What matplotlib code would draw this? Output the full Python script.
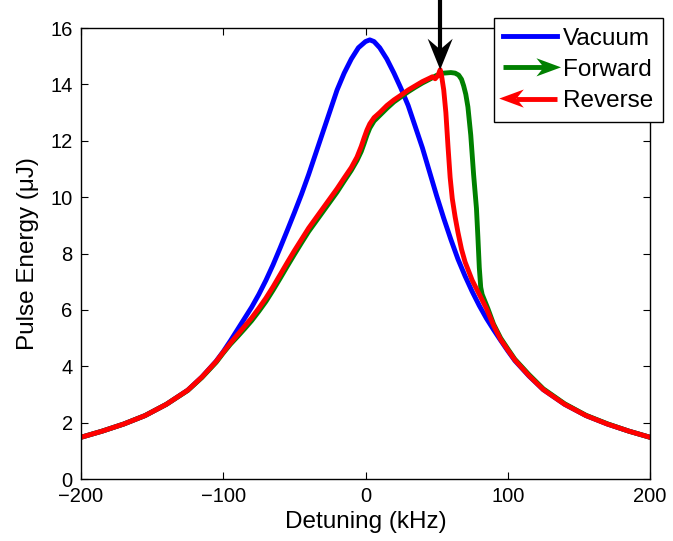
import matplotlib
matplotlib.use("Agg")
import matplotlib.pyplot as plt
import numpy as np
from matplotlib.lines import Line2D
from matplotlib.patches import Polygon
from matplotlib.legend_handler import HandlerBase

plt.rcParams['font.family'] = ['Liberation Sans', 'DejaVu Sans']

# vacuum (no cavity) response
vac_x = [-200, -185, -170, -155, -140, -125, -115, -105, -100, -95, -90, -85, -80, -75, -70,
         -65, -60, -55, -50, -45, -40, -35, -30, -25, -20, -15, -10, -5, 0, 3, 6, 10,
         15, 20, 25, 30, 35, 40, 45, 50, 55, 60, 65, 70, 75, 80, 85, 90, 95, 100,
         105, 115, 125, 140, 155, 170, 185, 200]
vac_y = [1.48, 1.70, 1.95, 2.25, 2.65, 3.15, 3.62, 4.18, 4.52, 4.9, 5.3, 5.7, 6.1, 6.55, 7.05,
         7.6, 8.2, 8.82, 9.45, 10.1, 10.8, 11.55, 12.3, 13.05, 13.8, 14.4, 14.9, 15.3, 15.52, 15.58, 15.52, 15.3,
         14.9, 14.4, 13.85, 13.25, 12.5, 11.75, 10.9, 10.05, 9.25, 8.5, 7.8, 7.2, 6.65, 6.15, 5.7, 5.3, 4.92, 4.55,
         4.2, 3.65, 3.17, 2.65, 2.25, 1.95, 1.70, 1.48]

# forward sweep
fwd_x = [-200, -185, -170, -155, -140, -125, -115, -105, -100, -95, -90, -85, -80, -75, -70,
         -65, -60, -55, -50, -45, -40, -35, -30, -25, -20, -15, -10, -6, -3, -1, 1, 3, 6, 10,
         15, 20, 25, 30, 35, 40, 45, 50, 55, 60, 63, 65.5, 67.5, 69, 70.5, 72, 73, 74,
         75, 76, 77, 78, 79, 80, 81, 82, 84, 86, 90, 95, 100,
         105, 115, 125, 140, 155, 170, 185, 200]
fwd_y = [1.48, 1.70, 1.95, 2.25, 2.65, 3.14, 3.6, 4.14, 4.47, 4.78, 5.05, 5.33, 5.62, 5.95, 6.3,
         6.7, 7.12, 7.55, 7.97, 8.38, 8.78, 9.13, 9.48, 9.83, 10.18, 10.57, 10.95, 11.3, 11.62, 11.9, 12.2, 12.45, 12.7, 12.9,
         13.15, 13.38, 13.56, 13.74, 13.9, 14.05, 14.18, 14.32, 14.4, 14.42, 14.4, 14.33, 14.18, 13.95, 13.65, 13.2, 12.7, 12.2,
         11.5, 10.8, 10.2, 9.6, 8.6, 7.5, 6.8, 6.55, 6.3, 6.05, 5.5, 5.0, 4.62,
         4.25, 3.7, 3.2, 2.67, 2.26, 1.96, 1.70, 1.48]

# reverse sweep
rev_x = [-200, -185, -170, -155, -140, -125, -115, -105, -100, -95, -90, -85, -80, -75, -70,
         -65, -60, -55, -50, -45, -40, -35, -30, -25, -20, -15, -10, -6, -3, -1, 1, 3, 6, 10,
         15, 20, 25, 30, 35, 40, 45, 47, 49, 51, 52.5, 53.5, 55, 56.5, 58, 59.5, 61, 63, 65,
         67.5, 70, 75, 80, 85, 90, 95, 100,
         105, 115, 125, 140, 155, 170, 185, 200]
rev_y = [1.48, 1.70, 1.95, 2.25, 2.65, 3.15, 3.62, 4.17, 4.5, 4.82, 5.12, 5.42, 5.72, 6.06, 6.42,
         6.82, 7.25, 7.68, 8.1, 8.5, 8.9, 9.25, 9.6, 9.95, 10.3, 10.68, 11.05, 11.42, 11.8, 12.1, 12.38, 12.6, 12.82, 13.0,
         13.25, 13.45, 13.62, 13.8, 13.95, 14.1, 14.22, 14.27, 14.2, 14.32, 14.52, 14.3, 13.8, 13.0, 11.8, 10.7, 9.95, 9.3, 8.75,
         8.15, 7.7, 7.05, 6.55, 6.05, 5.45, 4.95, 4.58,
         4.22, 3.66, 3.17, 2.65, 2.25, 1.95, 1.70, 1.48]

labels = ['Vacuum', 'Forward', 'Reverse']


class ArrowHandler(HandlerBase):
    def __init__(self, direction):
        super().__init__()
        self.direction = direction

    def create_artists(self, legend, orig_handle, xdescent, ydescent, width, height, fontsize, trans):
        y = height / 2 - ydescent
        x0 = -xdescent
        x1 = -xdescent + width
        hl = 0.46 * width
        hw = 0.17 * width
        notch = 0.3 * hl
        col = orig_handle.get_color()
        if self.direction > 0:
            tip = x1 + 3
            pts = [(tip, y), (tip - hl, y + hw), (tip - hl + notch, y), (tip - hl, y - hw)]
            lx = [x0, tip - hl + notch]
        else:
            tip = x0 - 3
            pts = [(tip, y), (tip + hl, y + hw), (tip + hl - notch, y), (tip + hl, y - hw)]
            lx = [tip + hl - notch, x1]
        line = Line2D(lx, [y, y], color=col, lw=orig_handle.get_linewidth(), solid_capstyle='butt')
        head = Polygon(pts, closed=True, facecolor=col, edgecolor='none')
        line.set_transform(trans)
        head.set_transform(trans)
        return [line, head]


fig = plt.figure(figsize=(6.73, 5.41), dpi=100)
ax = fig.add_axes([0.1204, 0.1146, 0.8454, 0.8336])

l1, = ax.plot(vac_x, vac_y, color='#0000ff', lw=3.5, label=labels[0], solid_joinstyle='round')
l2, = ax.plot(fwd_x, fwd_y, color='#008000', lw=3.5, label=labels[1], solid_joinstyle='round')
l3, = ax.plot(rev_x, rev_y, color='#ff0000', lw=3.5, label=labels[2], solid_joinstyle='round')

ax.set_xlim(-200, 200)
ax.set_ylim(0, 16)
ax.set_xticks([-200, -100, 0, 100, 200])
ax.set_yticks(np.arange(0, 17, 2))
ax.tick_params(direction='in', top=True, right=True, length=5, width=0.8, labelsize=14.5, pad=6)
for s in ax.spines.values():
    s.set_linewidth(1.0)
ax.set_xlabel('Detuning (kHz)', fontsize=17.5, labelpad=3)
ax.set_ylabel('Pulse Energy (\u03bcJ)', fontsize=17.5, labelpad=8)

# arrow marking the reverse-sweep maximum
i = int(np.argmax(rev_y))
ax_x, ax_y = rev_x[i], rev_y[i]
ax.plot([ax_x, ax_x], [ax_y + 0.7, 17.0], color='black', lw=3, clip_on=False, solid_capstyle='butt')
head = Polygon([(ax_x, ax_y), (ax_x - 8.8, ax_y + 1.1), (ax_x, ax_y + 0.72), (ax_x + 8.8, ax_y + 1.1)],
               closed=True, facecolor='black', edgecolor='none', clip_on=False, zorder=5)
ax.add_patch(head)

leg = ax.legend(handles=[l1, l2, l3], loc='upper right', bbox_to_anchor=(0.985, 0.967),
                bbox_transform=fig.transFigure, fontsize=17.5, frameon=True, fancybox=False,
                edgecolor='black', framealpha=1, handlelength=2.2, handletextpad=0.25,
                labelspacing=0.38, borderpad=0.4, borderaxespad=0,
                handler_map={l2: ArrowHandler(1), l3: ArrowHandler(-1)})
leg.get_frame().set_linewidth(1.0)

fig.savefig('out.png', dpi=100)
